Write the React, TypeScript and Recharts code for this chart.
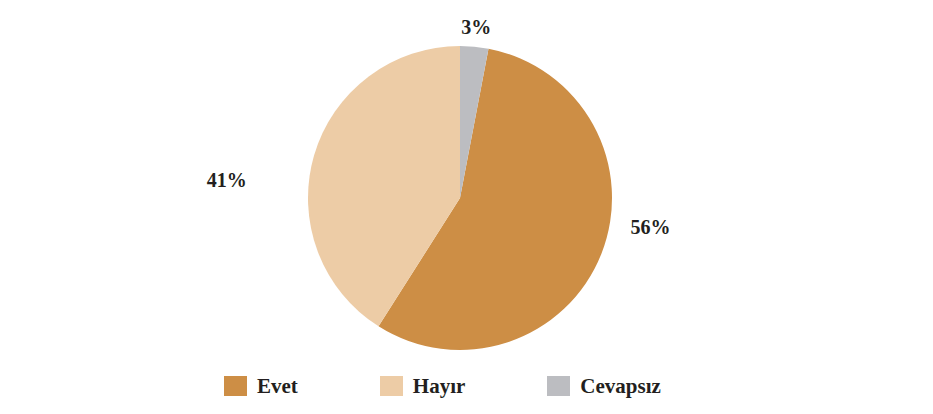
import { PieChart, Pie, Cell, Legend } from "recharts";

const categories = ["Evet", "Hayır", "Cevapsız"];
const shares = [56, 41, 3];
const colors = ["#CD8E45", "#EDCCA6", "#BCBDC1"];

const data = categories.map((name, i) => ({ name, value: shares[i] }));

// pie starts so that the small "Cevapsız" slice sits right after 12 o'clock
const total = shares.reduce((a, b) => a + b, 0);
const startAngle = 90 - (shares[2] / total) * 360;

const FONT = "'Liberation Serif', 'DejaVu Serif', serif";
const TEXT = "#231F20";
const FRAME = "#D6924C";

const labelDist: Record<string, number> = { Evet: 205, "Hayır": 243, "Cevapsız": 174 };

const renderLabel = (props: any) => {
  const { cx, cy, midAngle, name, value } = props;
  const r = labelDist[name] ?? 190;
  const rad = (midAngle * Math.PI) / 180;
  const s = Math.sin(rad);
  const x = cx + r * Math.cos(rad);
  const y = cy - r * s * Math.abs(s);
  return (
    <text
      x={x}
      y={y + 1}
      textAnchor="middle"
      dominantBaseline="central"
      fill={TEXT}
      style={{ fontFamily: FONT, fontWeight: 700, fontSize: 20 }}
    >
      {value}%
    </text>
  );
};

// legend keeps the original order (Evet, Hayır, Cevapsız)
const renderLegend = () => (
  <div style={{ display: "flex", gap: 82, marginLeft: 224 }}>
    {categories.map((name, i) => (
      <div key={name} style={{ display: "flex", alignItems: "center" }}>
        <span
          style={{
            display: "inline-block",
            width: 23,
            height: 20,
            background: colors[i],
            marginRight: 10,
          }}
        />
        <span style={{ fontFamily: FONT, fontWeight: 700, fontSize: 21, color: TEXT, lineHeight: "20px" }}>
          {name}
        </span>
      </div>
    ))}
  </div>
);

export default function App() {
  return (
    <div style={{ position: "relative", margin: -8, width: 933, height: 414, overflow: "hidden", background: "#fff" }}>
      <PieChart width={933} height={414} margin={{ top: 0, right: 0, bottom: 0, left: 0 }}>
        {/* orange frame, open on the right */}
        <path d="M 960 5 H 2 V 412 H 960" fill="none" stroke={FRAME} strokeWidth={2} />
        <Pie
          data={data}
          dataKey="value"
          nameKey="name"
          cx={460}
          cy={198}
          outerRadius={152}
          startAngle={startAngle}
          endAngle={startAngle - 360}
          stroke="none"
          label={renderLabel}
          labelLine={false}
          isAnimationActive={false}
        >
          {data.map((d, i) => (
            <Cell key={d.name} fill={colors[i]} />
          ))}
        </Pie>
        <Legend
          content={renderLegend}
          verticalAlign="bottom"
          wrapperStyle={{ position: "absolute", top: 376, left: 0, width: 933 }}
        />
      </PieChart>
    </div>
  );
}
